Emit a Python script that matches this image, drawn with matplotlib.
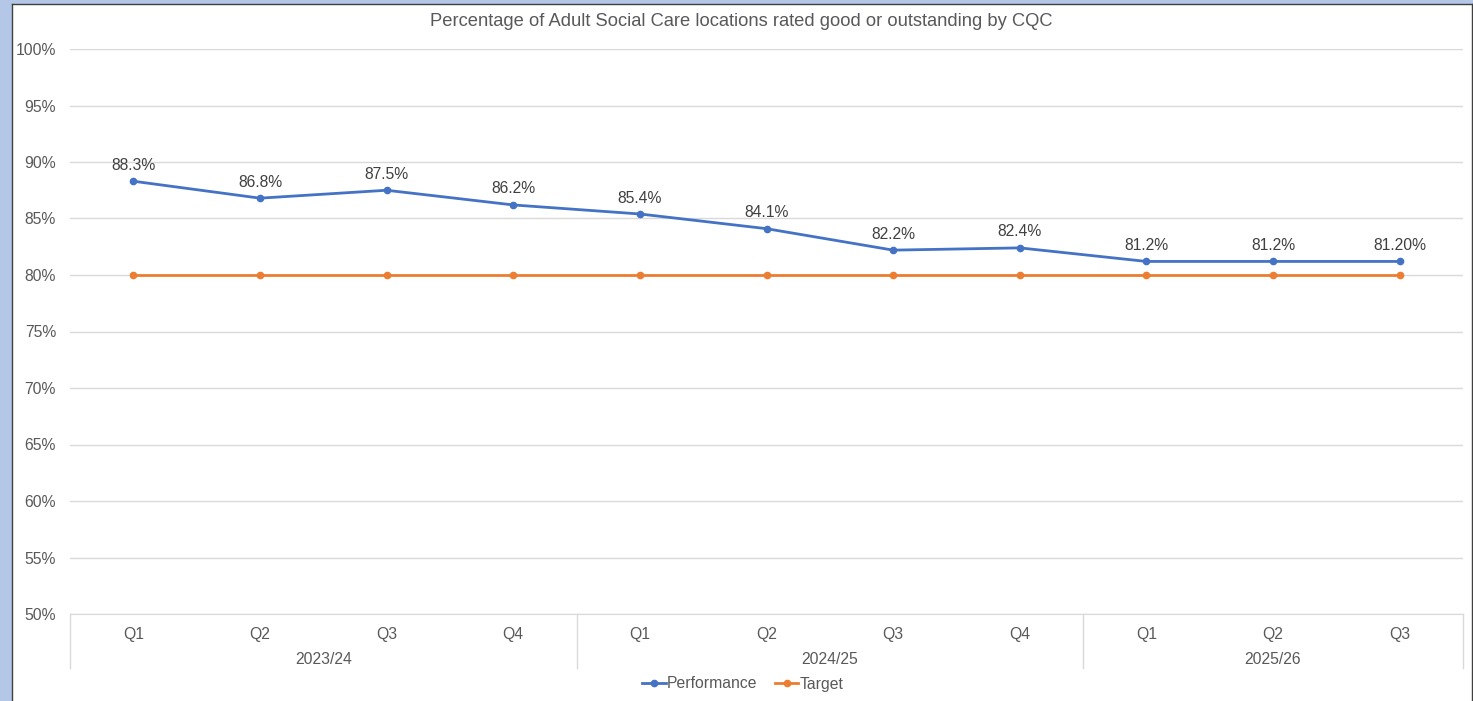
import matplotlib
matplotlib.use("Agg")
import matplotlib.pyplot as plt
from matplotlib.patches import Rectangle
from matplotlib.lines import Line2D
from matplotlib.transforms import blended_transform_factory

# ── Data ──────────────────────────────────────────────────────────────────────

QUARTERS = ["Q1", "Q2", "Q3", "Q4", "Q1", "Q2", "Q3", "Q4", "Q1", "Q2", "Q3"]
YEARS = ["2023/24", "2024/25", "2025/26"]
YEAR_SPANS = [(0, 3), (4, 7), (8, 10)]

performance = [88.3, 86.8, 87.5, 86.2, 85.4, 84.1, 82.2, 82.4, 81.2, 81.2, 81.2]
perf_labels = ["88.3%", "86.8%", "87.5%", "86.2%", "85.4%", "84.1%",
               "82.2%", "82.4%", "81.2%", "81.2%", "81.20%"]
target = [80, 80, 80, 80, 80, 80, 80, 80, 80, 80, 80]

# ── Style ─────────────────────────────────────────────────────────────────────

BLUE = "#4472C4"
ORANGE = "#ED7D31"
GRID = "#D9D9D9"
TEXT = "#595959"
FS = 11.3

plt.rcParams["font.family"] = ["Liberation Sans", "DejaVu Sans"]

W, H = 1473, 701
fig = plt.figure(figsize=(W / 100, H / 100), dpi=100)

# window frame around the chart
fig.patches.append(Rectangle((0, 0), 11 / W, 1, transform=fig.transFigure,
                             color="#B4C7E7", zorder=0))
fig.patches.append(Rectangle((0, 1 - 3 / H), 1, 3 / H, transform=fig.transFigure,
                             color="#B4C7E7", zorder=0))
fig.add_artist(Line2D([11.5 / W, 11.5 / W], [0, 1 - 3.5 / H], transform=fig.transFigure,
                      color="#404040", lw=1))
fig.add_artist(Line2D([11.5 / W, 1471.5 / W], [1 - 3.5 / H, 1 - 3.5 / H],
                      transform=fig.transFigure, color="#404040", lw=1))
fig.add_artist(Line2D([1471.5 / W, 1471.5 / W], [0, 1 - 3.5 / H], transform=fig.transFigure,
                      color="#404040", lw=1))

left, right, top, bottom = 70, 1463, 49, 614
ax = fig.add_axes([left / W, 1 - bottom / H, (right - left) / W, (bottom - top) / H])

x = list(range(len(QUARTERS)))

ax.plot(x, target, color=ORANGE, lw=2, marker="o", ms=4.5, label="Target", zorder=3)
ax.plot(x, performance, color=BLUE, lw=2, marker="o", ms=4.5, label="Performance", zorder=4)

for xi, v, lab in zip(x, performance, perf_labels):
    ax.annotate(lab, (xi, v), xytext=(0, 11.5), textcoords="offset points",
                ha="center", va="center", fontsize=FS, color="#404040")

ax.set_xlim(-0.5, len(QUARTERS) - 0.5)
ax.set_ylim(50, 100)
ax.set_yticks(range(50, 101, 5))
ax.set_yticklabels([f"{v}%" for v in range(50, 101, 5)])
ax.grid(axis="y", color=GRID, lw=1)
ax.set_axisbelow(True)

for s in ["top", "right", "left"]:
    ax.spines[s].set_visible(False)
ax.spines["bottom"].set_color(GRID)

ax.set_xticks(x)
ax.set_xticklabels(QUARTERS)
ax.tick_params(axis="x", length=0, pad=9.5, labelsize=FS, labelcolor=TEXT)
ax.tick_params(axis="y", length=0, pad=10, labelsize=FS, labelcolor=TEXT)

# multi-level category axis: year groups below the quarters
trans = blended_transform_factory(ax.transData, ax.transAxes)
axis_h = bottom - top
for xb in [-0.5, 3.5, 7.5, 10.5]:
    ax.plot([xb, xb], [0, -54 / axis_h], transform=trans, color=GRID, lw=1, clip_on=False)
for year, (a, b) in zip(YEARS, YEAR_SPANS):
    ax.text((a + b) / 2, -46 / axis_h, year, transform=trans, ha="center", va="center",
            fontsize=FS, color=TEXT)

fig.text(741.5 / W, 1 - 21 / H,
         "Percentage of Adult Social Care locations rated good or outstanding by CQC",
         ha="center", va="center", fontsize=13.2, color=TEXT)

handles = [Line2D([], [], color=BLUE, lw=2, marker="o", ms=4.5),
           Line2D([], [], color=ORANGE, lw=2, marker="o", ms=4.5)]
fig.legend(handles, ["Performance", "Target"], loc="center", ncol=2, frameon=False,
           bbox_to_anchor=(743 / W, 1 - 684 / H), fontsize=FS, labelcolor=TEXT,
           handlelength=1.5, handletextpad=0.1, columnspacing=1.1)

fig.savefig("out.png", dpi=100, facecolor="white")
